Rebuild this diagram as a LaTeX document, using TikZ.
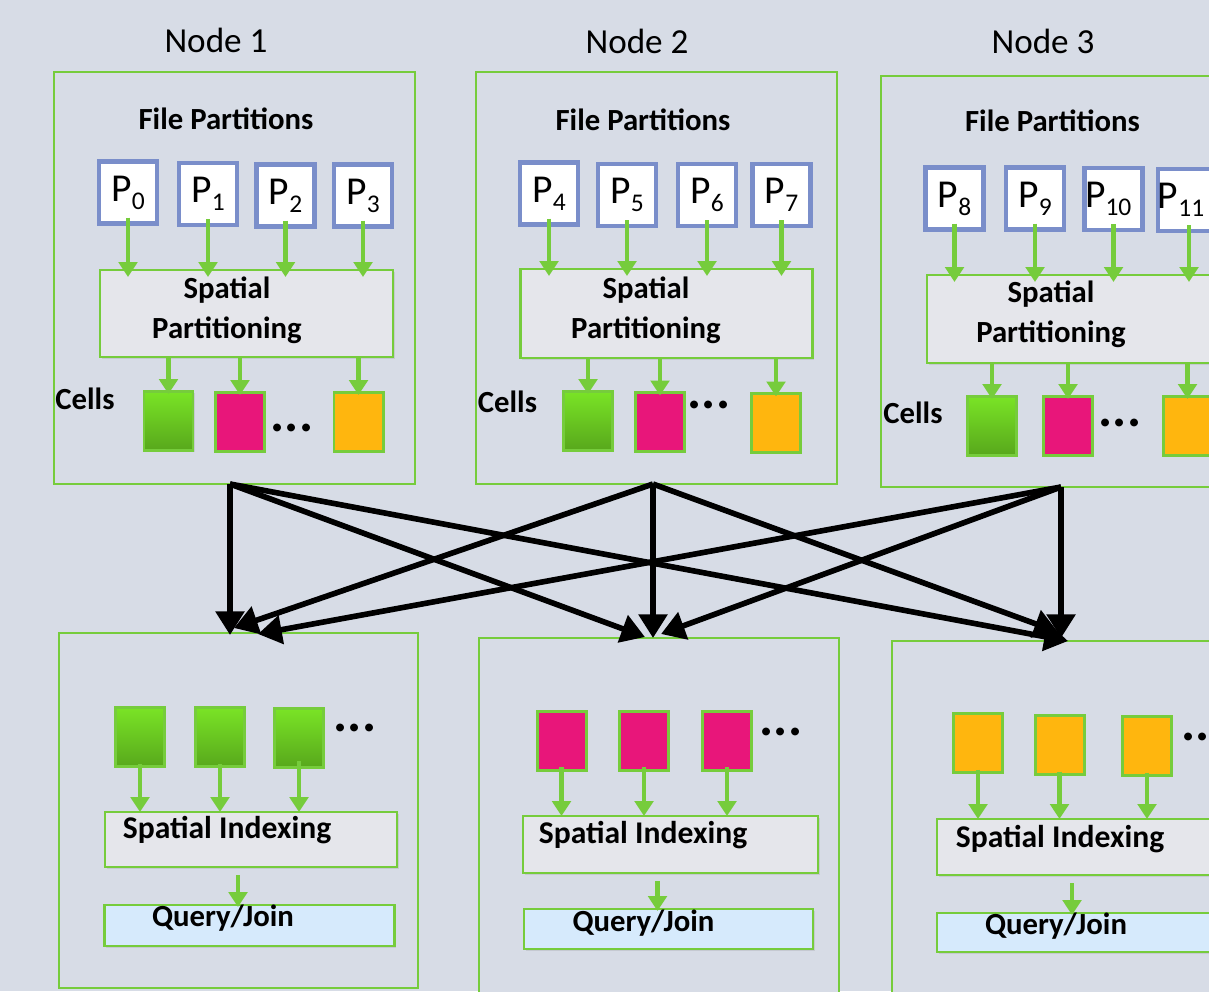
\documentclass[tikz,border=0pt]{standalone}
\usepackage{fontspec}
\setmainfont{Carlito}
\usepackage{tikz}
\usetikzlibrary{positioning, calc, arrows.meta, shadows}
\definecolor{npBack}{RGB}{215,220,230}
\definecolor{npGreen}{RGB}{118,204,60}
\definecolor{npBlue}{RGB}{122,142,202}
\definecolor{npStage}{RGB}{229,230,235}
\definecolor{npQuery}{RGB}{214,234,252}
\definecolor{npLime}{RGB}{122,228,38}
\definecolor{npMoss}{RGB}{88,168,28}
\definecolor{npPink}{RGB}{232,22,122}
\definecolor{npAmber}{RGB}{255,182,14}

% partition label with a lowered index
\newcommand{\pid}[1]{P\raisebox{-4.5pt}{\fontsize{14.5}{14.5}\selectfont #1}}

\tikzset{
    pxbox/.style 2 args={
        minimum width=#1*0.02cm,
        minimum height=#2*0.02cm,
        inner sep=0pt,
        outer sep=0pt
    },
    base/.style={
        font=\fontsize{17.5}{22.5}\selectfont\bfseries,
        align=center,
        inner sep=0pt
    },
    caption/.style={
        font=\fontsize{20}{24}\selectfont,
        inner sep=0pt
    },
    host/.style={
        rectangle,
        draw=npGreen,
        line width=1.5pt,
        fill=npBack,
        drop shadow={opacity=0.15, shadow xshift=0.8pt, shadow yshift=-0.8pt}
    },
    partbox/.style={
        rectangle,
        draw=npBlue,
        line width=2.5pt,
        fill=white,
        pxbox={58}{62},
        font=\fontsize{22.5}{26}\selectfont
    },
    stage/.style={
        rectangle,
        draw=npGreen,
        line width=1.6pt,
        fill=npStage,
        drop shadow={opacity=0.2, shadow xshift=1pt, shadow yshift=-1pt}
    },
    query/.style={
        stage,
        fill=npQuery
    },
    cellbox/.style={
        rectangle,
        draw=npGreen,
        line width=1.7pt,
        pxbox={49}{59},
        drop shadow={opacity=0.2, shadow xshift=1pt, shadow yshift=-1pt}
    },
    cellG/.style={cellbox, top color=npLime, bottom color=npMoss},
    cellP/.style={cellbox, fill=npPink},
    cellO/.style={cellbox, fill=npAmber},
    dots/.style={
        font=\fontsize{30}{30}\selectfont\bfseries,
        inner sep=0pt,
        anchor=base
    },
    feed/.style={
        -{Triangle[length=8.5pt, width=10.5pt]},
        line width=2.7pt,
        draw=npGreen
    },
    shuffle/.style={
        -{Triangle[length=13.5pt, width=16pt]},
        line width=3.2pt,
        draw=black
    }
}

\begin{document}
\begin{tikzpicture}[x=0.02cm, y=-0.02cm]
  \fill[npBack] (0,0) rectangle (1209,991);
  \useasboundingbox (0,0) rectangle (1209,991);
  \clip (0,0) rectangle (1209,991);

  % Node 1, partitioning
  \node[caption, anchor=base] (title1) at (216,52) {Node 1};
  \node[host, pxbox={361}{412}] (host1) at (234.5,278) {};
  \node[base, anchor=base] (files1) at (226,129) {File Partitions};
  \node[partbox] (p0) at (128,192.5) {\pid{0}};
  \node[partbox] (p1) at (208,194) {\pid{1}};
  \node[partbox] (p2) at (285.5,195.5) {\pid{2}};
  \node[partbox] (p3) at (363,195.5) {\pid{3}};
  \node[stage, pxbox={293}{87}] (sp1) at (246.5,313.5) {};
  \node[base, anchor=base] (sp1txt) at (227,338) {Spatial\\Partitioning};
  \node[base, anchor=base] (cells1) at (85,409) {Cells};
  \node[cellG] (c1a) at (168.5,420.5) {};
  \node[cellP] (c1b) at (240,421.5) {};
  \node[dots] (d1) at (292,431) {...};
  \node[cellO] (c1c) at (358.5,421.5) {};

  \draw[feed] ($(p0.south)+(0,-6)$) -- ($(p0.south |- sp1.north)+(0,7)$);
  \draw[feed] ($(p1.south)+(0,-6)$) -- ($(p1.south |- sp1.north)+(0,7)$);
  \draw[feed] ($(p2.south)+(0,-6)$) -- ($(p2.south |- sp1.north)+(0,7)$);
  \draw[feed] ($(p3.south)+(0,-6)$) -- ($(p3.south |- sp1.north)+(0,7)$);
  \draw[feed] (sp1.south -| c1a) -- ($(c1a.north)+(0,3)$);
  \draw[feed] (sp1.south -| c1b) -- ($(c1b.north)+(0,3)$);
  \draw[feed] (sp1.south -| c1c) -- ($(c1c.north)+(0,3)$);

  % Node 2, partitioning
  \node[caption, anchor=base] (title2) at (637,53) {Node 2};
  \node[host, pxbox={361}{412}] (host2) at (656.5,278) {};
  \node[base, anchor=base] (files2) at (643,130) {File Partitions};
  \node[partbox] (p4) at (549,193.5) {\pid{4}};
  \node[partbox] (p5) at (627,195) {\pid{5}};
  \node[partbox] (p6) at (707,195) {\pid{6}};
  \node[partbox] (p7) at (781.5,195) {\pid{7}};
  \node[stage, pxbox={292}{89}] (sp2) at (666.5,313.5) {};
  \node[base, anchor=base] (sp2txt) at (646,338) {Spatial\\Partitioning};
  \node[base, anchor=base] (cells2) at (507.5,412) {Cells};
  \node[cellG] (c2a) at (588,420.5) {};
  \node[cellP] (c2b) at (660,422) {};
  \node[dots] (d2) at (709,408) {...};
  \node[cellO] (c2c) at (776,423) {};

  \draw[feed] ($(p4.south)+(0,-6)$) -- ($(p4.south |- sp2.north)+(0,7)$);
  \draw[feed] ($(p5.south)+(0,-6)$) -- ($(p5.south |- sp2.north)+(0,7)$);
  \draw[feed] ($(p6.south)+(0,-6)$) -- ($(p6.south |- sp2.north)+(0,7)$);
  \draw[feed] ($(p7.south)+(0,-6)$) -- ($(p7.south |- sp2.north)+(0,7)$);
  \draw[feed] (sp2.south -| c2a) -- ($(c2a.north)+(0,3)$);
  \draw[feed] (sp2.south -| c2b) -- ($(c2b.north)+(0,3)$);
  \draw[feed] (sp2.south -| c2c) -- ($(c2c.north)+(0,3)$);

  % Node 3, partitioning
  \node[caption, anchor=base] (title3) at (1043,53) {Node 3};
  \node[host, pxbox={361}{411}] (host3) at (1061.5,281.5) {};
  \node[base, anchor=base] (files3) at (1052.5,131) {File Partitions};
  \node[partbox] (p8) at (954.5,198.5) {\pid{8}};
  \node[partbox] (p9) at (1035,198.5) {\pid{9}};
  \node[partbox] (p10) at (1113.5,199) {\pid{10}\kern6pt};
  \node[partbox] (p11) at (1189,200) {\pid{11}\kern9pt};
  \node[stage, pxbox={293}{88}] (sp3) at (1073.5,319) {};
  \node[base, anchor=base] (sp3txt) at (1051,342) {Spatial\\Partitioning};
  \node[base, anchor=base] (cells3) at (913,423) {Cells};
  \node[cellG] (c3a) at (992,425.5) {};
  \node[cellP] (c3b) at (1068,425.5) {};
  \node[dots] (d3) at (1120,426) {...};
  \node[cellO] (c3c) at (1187.5,425.5) {};

  \draw[feed] ($(p8.south)+(0,-6)$) -- ($(p8.south |- sp3.north)+(0,7)$);
  \draw[feed] ($(p9.south)+(0,-6)$) -- ($(p9.south |- sp3.north)+(0,7)$);
  \draw[feed] ($(p10.south)+(0,-6)$) -- ($(p10.south |- sp3.north)+(0,7)$);
  \draw[feed] ($(p11.south)+(0,-6)$) -- ($(p11.south |- sp3.north)+(0,7)$);
  \draw[feed] (sp3.south -| c3a) -- ($(c3a.north)+(0,3)$);
  \draw[feed] (sp3.south -| c3b) -- ($(c3b.north)+(0,3)$);
  \draw[feed] (sp3.south -| c3c) -- ($(c3c.north)+(0,3)$);

  % Node 1, indexing
  \node[caption, anchor=base] (title4) at (220,673) {Node 1};
  \node[host, pxbox={359}{355}] (sink1) at (238.5,810.5) {};
  \node[cellG] (b1a) at (140,737) {};
  \node[cellG] (b1b) at (220,737) {};
  \node[cellG] (b1c) at (299,737.5) {};
  \node[dots] (d4) at (355,731) {...};
  \node[stage, pxbox={292}{55}] (si1) at (251,839.5) {};
  \node[base, font=\fontsize{18}{22}\selectfont\bfseries, anchor=base] (si1txt) at (227,838) {Spatial Indexing};
  \node[query, pxbox={290}{41}] (qj1) at (249.5,925.5) {};
  \node[base, anchor=base] (qj1txt) at (223,926) {Query/Join};

  \draw[feed] ($(b1a.south)+(0,-3)$) -- (b1a.south |- si1.north);
  \draw[feed] ($(b1b.south)+(0,-3)$) -- (b1b.south |- si1.north);
  \draw[feed] ($(b1c.south)+(0,-6)$) -- (b1c.south |- si1.north);
  \draw[feed] ($(si1.south)+(-13,8)$) -- ($(si1.south |- qj1.north)+(-13,2)$);

  % Node 2, indexing
  \node[caption, anchor=base] (title5) at (640,676) {Node 2};
  \node[host, pxbox={360}{355}] (sink2) at (659,815.5) {};
  \node[cellP] (b2a) at (561.5,740.5) {};
  \node[cellP] (b2b) at (644,740.5) {};
  \node[cellP] (b2c) at (727,740.5) {};
  \node[dots] (d5) at (781,735) {...};
  \node[stage, pxbox={295}{57}] (si2) at (670.5,844.5) {};
  \node[base, font=\fontsize{18}{22}\selectfont\bfseries, anchor=base] (si2txt) at (643,843) {Spatial Indexing};
  \node[query, pxbox={289}{40}] (qj2) at (668.5,929) {};
  \node[base, anchor=base] (qj2txt) at (643.5,931) {Query/Join};

  \draw[feed] ($(b2a.south)+(0,-3)$) -- (b2a.south |- si2.north);
  \draw[feed] ($(b2b.south)+(0,-3)$) -- (b2b.south |- si2.north);
  \draw[feed] ($(b2c.south)+(0,-3)$) -- (b2c.south |- si2.north);
  \draw[feed] ($(si2.south)+(-13,8)$) -- ($(si2.south |- qj2.north)+(-13,2)$);

  % Node 3, indexing
  \node[caption, anchor=base] (title6) at (1054,681) {Node 3};
  \node[host, pxbox={359}{355}] (sink3) at (1071.5,818.5) {};
  \node[cellO] (b3a) at (978,743) {};
  \node[cellO] (b3b) at (1059.5,745) {};
  \node[cellO] (b3c) at (1147,746) {};
  \node[dots] (d6) at (1203,740) {...};
  \node[stage, pxbox={292}{56}] (si3) at (1083,847) {};
  \node[base, font=\fontsize{18}{22}\selectfont\bfseries, anchor=base] (si3txt) at (1060,847) {Spatial Indexing};
  \node[query, pxbox={290}{39}] (qj3) at (1082,932.5) {};
  \node[base, anchor=base] (qj3txt) at (1056,934) {Query/Join};

  \draw[feed] ($(b3a.south)+(0,-3)$) -- (b3a.south |- si3.north);
  \draw[feed] ($(b3b.south)+(0,-3)$) -- (b3b.south |- si3.north);
  \draw[feed] ($(b3c.south)+(0,-3)$) -- (b3c.south |- si3.north);
  \draw[feed] ($(si3.south)+(-11,8)$) -- ($(si3.south |- qj3.north)+(-11,2)$);

  % Shuffle: every node sends cells to every node
  \draw[shuffle] ($(host1.south)+(-4.5,0)$) -- ($(sink1.north)+(-8.5,2)$);
  \draw[shuffle] ($(host1.south)+(-4.5,0)$) -- ($(sink2.north)+(-14,-1)$);
  \draw[shuffle] ($(host1.south)+(-4.5,0)$) -- ($(sink3.north)+(-3.5,0)$);
  \draw[shuffle] ($(host2.south)+(-3.5,0)$) -- ($(sink1.north)+(-4.5,-5)$);
  \draw[shuffle] ($(host2.south)+(-3.5,0)$) -- ($(sink2.north)+(-6,0)$);
  \draw[shuffle] ($(host2.south)+(-3.5,0)$) -- ($(sink3.north)+(-13.5,-9)$);
  \draw[shuffle] ($(host3.south)+(-0.5,0)$) -- ($(sink1.north)+(19.5,1)$);
  \draw[shuffle] ($(host3.south)+(-0.5,0)$) -- ($(sink2.north)+(2,-4)$);
  \draw[shuffle] ($(host3.south)+(-0.5,0)$) -- ($(sink3.north)+(-10.5,-3)$);
\end{tikzpicture}
\end{document}
